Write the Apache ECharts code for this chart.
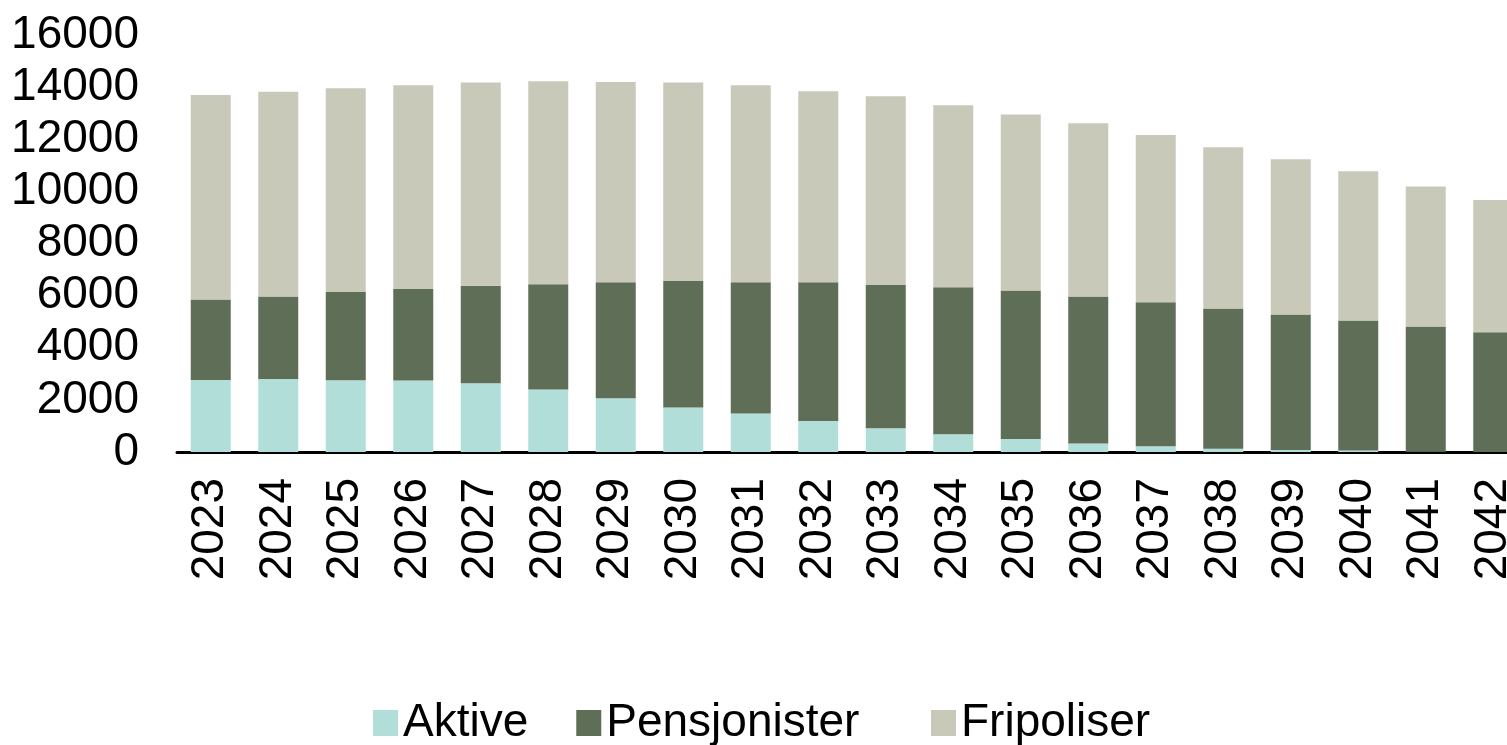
<!DOCTYPE html>
<html>
<head>
<meta charset="utf-8">
<script src="https://cdn.jsdelivr.net/npm/echarts@6/dist/echarts.min.js"></script>
<style>
  html, body { margin: 0; padding: 0; background: #fff; }
  #chart { width: 1507px; height: 745px; }
</style>
</head>
<body>
<div id="chart"></div>
<script>
const years = ['2023', '2024', '2025', '2026', '2027', '2028', '2029', '2030', '2031', '2032',
  '2033', '2034', '2035', '2036', '2037', '2038', '2039', '2040', '2041', '2042'];

const aktive = [2760, 2800, 2750, 2740, 2640, 2400, 2060, 1710, 1480, 1190,
  910, 680, 500, 330, 220, 120, 80, 60, 10, 0];
const pensjonister = [3090, 3170, 3390, 3510, 3740, 4040, 4450, 4850, 5030, 5320,
  5500, 5640, 5700, 5640, 5530, 5390, 5200, 4990, 4810, 4590];
const fripoliser = [7850, 7850, 7820, 7820, 7800, 7790, 7690, 7620, 7560, 7330,
  7240, 6980, 6750, 6640, 6410, 6180, 5950, 5720, 5370, 5080];

const FONT = '"Liberation Sans", Arial, sans-serif';
const colors = { aktive: '#b2deda', pens: '#5f6e57', frip: '#c8c9b9' };

const chart = echarts.init(document.getElementById('chart'));

const bar = (name, data, color) => ({
  name,
  type: 'bar',
  stack: 'total',
  data,
  barWidth: 40,
  itemStyle: { color },
  emphasis: { disabled: true },
});

// legend split in two so the last key lands where the original has it
const legendBase = {
  top: 700,
  padding: 0,
  icon: 'rect',
  itemWidth: 25,
  itemHeight: 26,
  itemGap: 48,
  textStyle: { fontSize: 46, color: '#000', fontFamily: FONT },
};

chart.setOption({
  backgroundColor: '#fff',
  animation: false,
  textStyle: { fontFamily: FONT },
  grid: { left: 177, right: -20, top: 35, bottom: 293, containLabel: false, outerBoundsMode: 'none' },
  legend: [
    { ...legendBase, left: 373, data: ['Aktive', 'Pensjonister'] },
    { ...legendBase, left: 931, data: ['Fripoliser'] },
  ],
  xAxis: {
    type: 'category',
    data: years,
    axisLine: { lineStyle: { color: '#000', width: 3 } },
    axisTick: { show: false },
    axisLabel: {
      rotate: 90,
      margin: 26,
      fontSize: 46,
      color: '#000',
      fontFamily: FONT,
      interval: 0,
    },
  },
  yAxis: {
    type: 'value',
    min: 0,
    max: 16000,
    interval: 2000,
    axisLine: { show: false },
    axisTick: { show: false },
    splitLine: { show: false },
    axisLabel: { fontSize: 46, color: '#000', fontFamily: FONT, margin: 38, formatter: v => String(v) },
  },
  series: [
    bar('Aktive', aktive, colors.aktive),
    bar('Pensjonister', pensjonister, colors.pens),
    bar('Fripoliser', fripoliser, colors.frip),
  ],
});
</script>
</body>
</html>
